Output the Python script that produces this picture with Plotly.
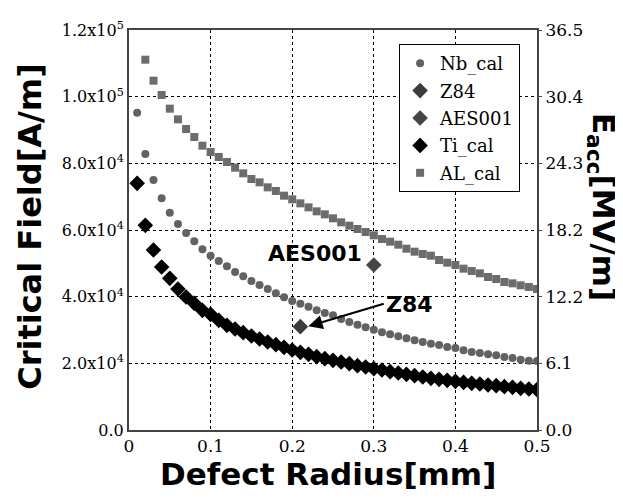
import plotly.graph_objects as go

radius = [0.01, 0.02, 0.03, 0.04, 0.05, 0.06, 0.07, 0.08, 0.09, 0.10,
          0.11, 0.12, 0.13, 0.14, 0.15, 0.16, 0.17, 0.18, 0.19, 0.20,
          0.21, 0.22, 0.23, 0.24, 0.25, 0.26, 0.27, 0.28, 0.29, 0.30,
          0.31, 0.32, 0.33, 0.34, 0.35, 0.36, 0.37, 0.38, 0.39, 0.40,
          0.41, 0.42, 0.43, 0.44, 0.45, 0.46, 0.47, 0.48, 0.49, 0.50]

nb_cal = [95200, 82800, 75000, 69500, 65200, 61800, 59100, 56600, 54200, 52300,
          50700, 49100, 47400, 46100, 44700, 43500, 42300, 41000, 39800, 38700,
          37900, 37000, 35900, 35100, 34400, 33300, 32400, 31600, 30800, 30100,
          29300, 28700, 28100, 27500, 26900, 26400, 25900, 25500, 24900, 24600,
          23900, 23400, 23100, 22700, 22400, 21900, 21600, 21100, 20800, 20700]

ti_cal = [74000, 61400, 54000, 48900, 45500, 42300, 39900, 38000, 35900, 34700,
          32900, 31400, 30300, 29200, 28200, 27300, 26400, 25600, 24800, 24000,
          23300, 22700, 22000, 21400, 20900, 20400, 19900, 19300, 18900, 18400,
          18000, 17500, 17100, 16700, 16300, 15900, 15500, 15200, 14900, 14600,
          14300, 14000, 13800, 13500, 13300, 13000, 12800, 12500, 12300, 12100]

al_radius = radius[1:]
al_cal = [111100, 104800, 100500, 96400, 93200, 90300, 87900, 85300, 83400,
          81900, 80400, 78700, 77000, 75300, 74300, 72800, 71700, 70300, 69200,
          68000, 66800, 65600, 64700, 63500, 62300, 61300, 60300, 59400, 58400,
          57300, 56500, 55600, 54400, 53500, 52800, 52300, 51000, 50200, 49500,
          48400, 47700, 47000, 45900, 45300, 44400, 44000, 43400, 42900, 42300]

z84_r = [0.21]
z84_h = [31000]
aes_r = [0.30]
aes_h = [49500]

left_tickvals = [0, 20000, 40000, 60000, 80000, 100000, 120000]
left_ticktext = ["0.0", "2.0x10<sup>4</sup>", "4.0x10<sup>4</sup>", "6.0x10<sup>4</sup>",
                 "8.0x10<sup>4</sup>", "1.0x10<sup>5</sup>", "1.2x10<sup>5</sup>"]
right_ticktext = ["0.0", "6.1", "12.2", "18.2", "24.3", "30.4", "36.5"]
x_tickvals = [0, 0.1, 0.2, 0.3, 0.4, 0.5]
x_ticktext = ["0", "0.1", "0.2", "0.3", "0.4", "0.5"]

EACC_MAX = 36.5
right_tickvals = [EACC_MAX * v / 120000 for v in left_tickvals]

serif = "DejaVu Serif"
sans = "DejaVu Sans"

fig = go.Figure()
fig.add_trace(go.Scatter(x=radius, y=nb_cal, mode="markers", name="Nb_cal",
                         legendgroup="a",
                         marker=dict(symbol="circle", size=8, color="#626262")))
fig.add_trace(go.Scatter(x=z84_r, y=z84_h, mode="markers", name="Z84",
                         legendgroup="b",
                         marker=dict(symbol="diamond", size=12, color="#3c3c3c")))
fig.add_trace(go.Scatter(x=aes_r, y=aes_h, mode="markers", name="AES001",
                         legendgroup="c",
                         marker=dict(symbol="diamond", size=12, color="#454545")))
fig.add_trace(go.Scatter(x=radius, y=ti_cal, mode="markers", name="Ti_cal",
                         legendgroup="d",
                         marker=dict(symbol="diamond", size=12, color="#000000")))
fig.add_trace(go.Scatter(x=al_radius, y=al_cal, mode="markers", name="AL_cal",
                         legendgroup="e",
                         marker=dict(symbol="square", size=8, color="#6c6c6c")))
# invisible trace for right axis
fig.add_trace(go.Scatter(x=[0, 0.5], y=[0, EACC_MAX], mode="markers", yaxis="y2",
                         showlegend=False, hoverinfo="skip",
                         marker=dict(size=1, opacity=0)))

fig.update_layout(
    width=615, height=490,
    margin=dict(l=121, r=86, t=22, b=68, autoexpand=False),
    paper_bgcolor="white", plot_bgcolor="white",
    font=dict(family=serif, size=17, color="black"),
    xaxis=dict(range=[0, 0.5], tickvals=x_tickvals, ticktext=x_ticktext,
               automargin=False,
               showgrid=True, gridcolor="black", griddash="dot", gridwidth=1,
               showline=True, linecolor="#444", linewidth=2, mirror=True,
               zeroline=False, ticks="", tickfont=dict(family=serif, size=17)),
    yaxis=dict(range=[0, 120000], tickvals=left_tickvals, ticktext=left_ticktext,
               automargin=False,
               showgrid=True, gridcolor="black", griddash="dot", gridwidth=1,
               showline=True, linecolor="#444", linewidth=2, mirror=True,
               zeroline=False, ticks="", tickfont=dict(family=serif, size=16)),
    yaxis2=dict(range=[0, EACC_MAX], overlaying="y", side="right",
                automargin=False,
                tickvals=right_tickvals, ticktext=right_ticktext,
                showgrid=False, zeroline=False, showline=False,
                ticks="outside", ticklen=4, tickcolor="#444",
                tickfont=dict(family=serif, size=17)),
    showlegend=True,
    legend=dict(x=0.662, y=0.965, xanchor="left", yanchor="top",
                bgcolor="white", bordercolor="black", borderwidth=1,
                font=dict(family=serif, size=18),
                traceorder="grouped", tracegroupgap=1),
)

fig.add_annotation(text="<b>Critical Field[A/m]</b>", xref="paper", yref="paper",
                   x=-0.243, y=0.51, xanchor="center", yanchor="middle",
                   textangle=-90, showarrow=False,
                   font=dict(family=sans, size=32, color="black"))
fig.add_annotation(text="<b>Defect Radius[mm]</b>", xref="paper", yref="paper",
                   x=0.488, y=-0.111, xanchor="center", yanchor="middle",
                   showarrow=False,
                   font=dict(family=sans, size=31, color="black"))
fig.add_annotation(text="<b>E<sub>acc</sub>[MV/m]</b>", xref="paper", yref="paper",
                   x=1.16, y=0.557, xanchor="center", yanchor="middle",
                   textangle=90, showarrow=False,
                   font=dict(family=sans, size=31, color="black"))

fig.add_annotation(text="<b>AES001</b>", x=0.228, y=53000, xref="x", yref="y",
                   showarrow=False, font=dict(family=sans, size=22, color="black"))
fig.add_annotation(text="<b>Z84</b>", x=0.3435, y=37700, xref="x", yref="y",
                   showarrow=False, font=dict(family=sans, size=22, color="black"))
fig.add_annotation(text="", x=0.2197, y=31100, xref="x", yref="y",
                   ax=77, ay=-23, showarrow=True, arrowhead=2, arrowsize=1.3,
                   arrowwidth=2.2, arrowcolor="black")

fig.write_html("out.html")
